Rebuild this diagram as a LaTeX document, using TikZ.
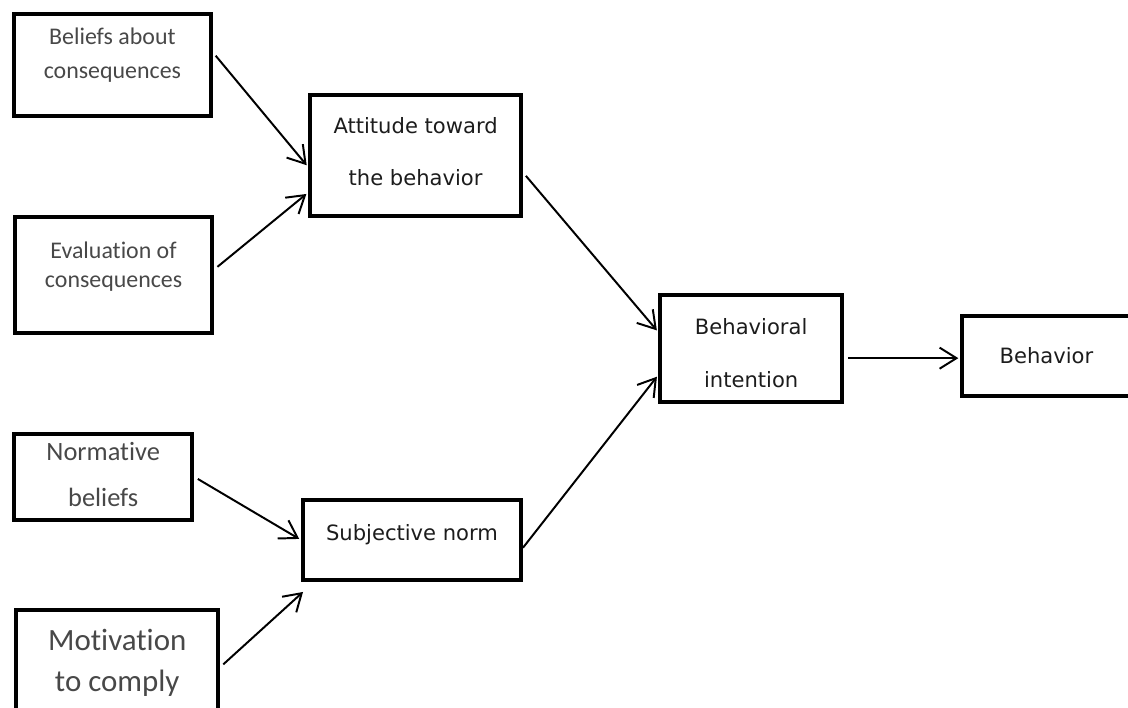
\documentclass[tikz,border=0pt]{standalone}
\usepackage{fontspec}
\usetikzlibrary{arrows.meta,calc}
\newfontfamily\calfont[Ligatures=NoCommon]{Carlito}
\newfontfamily\sysfont{DejaVu Sans}
\definecolor{txtgrey}{RGB}{72,72,72}
\definecolor{txtdark}{RGB}{28,28,28}
\begin{document}
\begin{tikzpicture}[box/.style={draw,line width=2.8pt,inner sep=0pt},
    ltext/.style={align=center,text=txtgrey},
    mtext/.style={align=center,text=txtdark},
    arr/.style={-{Straight Barb[length=12pt,width=15pt]},line width=1.4pt,shorten <=3pt,shorten >=1.5pt}]
    \clip (0,0) rectangle (28.2,17.7);

    \node[box,minimum width=4.93cm,minimum height=2.55cm] (bac) at (2.81,16.08) {};
    \node[ltext,font=\calfont\fontsize{17pt}{24pt}\selectfont] (bac-t) at ($(bac)+(0,.25)$) {Beliefs about\\consequences};

    \node[box,minimum width=4.93cm,minimum height=2.9cm] (eoc) at (2.84,10.83) {};
    \node[ltext,font=\calfont\fontsize{17pt}{20.6pt}\selectfont] (eoc-t) at ($(eoc)+(0,.2)$) {Evaluation of\\consequences};

    \node[box,minimum width=4.45cm,minimum height=2.15cm] (nb) at (2.58,5.78) {};
    \node[ltext,font=\calfont\fontsize{18.8pt}{32.7pt}\selectfont] (nb-t) at ($(nb)+(0,.05)$) {Normative\\beliefs};

    \node[box,minimum width=5.05cm,minimum height=2.5cm] (mtc) at (2.93,1.2) {};
    \node[ltext,font=\calfont\fontsize{22pt}{29.2pt}\selectfont] (mtc-t) at ($(mtc)+(0,-.06)$) {Motivation\\to comply};

    \node[box,minimum width=5.28cm,minimum height=3.03cm] (att) at (10.39,13.81) {};
    \node[mtext,font=\sysfont\fontsize{15pt}{37pt}\selectfont] (att-t) at ($(att)+(0,.11)$) {Attitude toward\\the behavior};

    \node[box,minimum width=5.45cm,minimum height=2cm] (sn) at (10.3,4.2) {};
    \node[mtext,font=\sysfont\fontsize{15pt}{18pt}\selectfont] (sn-t) at ($(sn)+(0,.125)$) {Subjective norm};

    \node[box,minimum width=4.55cm,minimum height=2.68cm] (bi) at (18.78,8.99) {};
    \node[mtext,font=\sysfont\fontsize{15pt}{37.7pt}\selectfont] (bi-t) at ($(bi)+(0,-.125)$) {Behavioral\\intention};

    \node[box,minimum width=4.2cm,minimum height=2cm] (beh) at (26.16,8.8) {};
    \node[mtext,font=\sysfont\fontsize{15pt}{18pt}\selectfont] (beh-t) at ($(beh)+(0,.02)$) {Behavior};

    \draw[arr] (bac.7) -- (att.186);
    \draw[arr] (eoc.3) -- (att.199);
    \draw[arr] (att.-9) -- (bi.170);
    \draw[arr,shorten <=0pt] (sn.-4) -- (bi.196);
    \draw[arr] (bi.-6) -- (bi.-6 -| beh.west);
    \draw[arr] (nb.east) -- (sn.west);
    \draw[arr,shorten >=0pt] (mtc.-4) -- ($(sn.south west)+(.05,-.25)$);
\end{tikzpicture}
\end{document}
